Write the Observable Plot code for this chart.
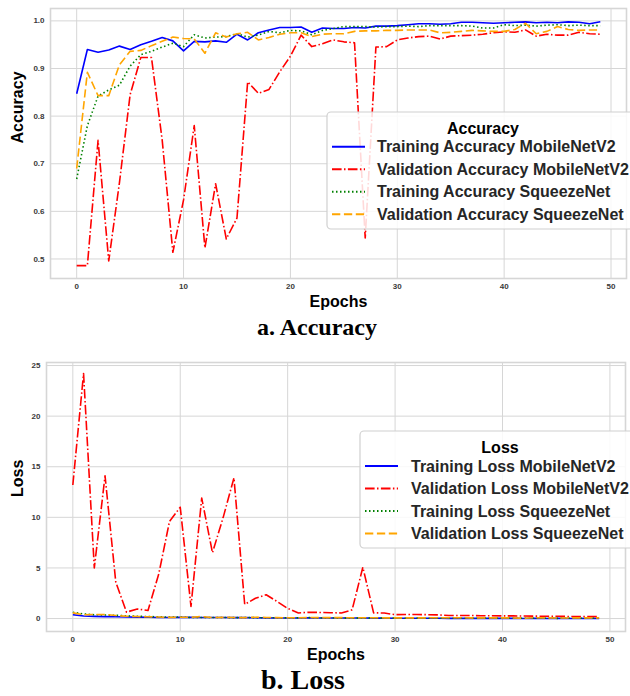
<!DOCTYPE html>
<html><head><meta charset="utf-8">
<script src="https://cdn.jsdelivr.net/npm/d3@7"></script>
<script src="https://cdn.jsdelivr.net/npm/@observablehq/plot@0.6"></script>
<style>
body{margin:0;background:#fff;}
#fig{position:relative;width:630px;height:696px;overflow:hidden;background:#fff;font-family:"Liberation Sans",Arial,sans-serif;}
.panel{position:absolute;left:0;}
.overlay{position:absolute;left:0;top:0;}
.caption{position:absolute;left:0;font-family:"Liberation Serif","Times New Roman",serif;font-weight:bold;color:#000;text-align:center;white-space:nowrap;}
</style>
</head><body>
<div id="fig"></div>
<script>
// ---------- data ----------
const epochs = [0,1,2,3,4,5,6,7,8,9,10,11,12,13,14,15,16,17,18,19,20,21,22,23,24,25,26,27,28,29,30,31,32,33,34,35,36,37,38,39,40,41,42,43,44,45,46,47,48,49];
const xTicks = [0,10,20,30,40,50];
const accTicks = [0.5,0.6,0.7,0.8,0.9,1.0];
const lossTicks = [0,5,10,15,20,25];

const trainAccMobile = [0.847,0.940,0.934,0.939,0.947,0.940,0.950,0.957,0.965,0.958,0.937,0.957,0.956,0.958,0.955,0.972,0.960,0.975,0.981,0.986,0.986,0.987,0.976,0.985,0.984,0.984,0.986,0.985,0.989,0.989,0.990,0.992,0.994,0.994,0.993,0.994,0.997,0.997,0.996,0.995,0.996,0.997,0.998,0.996,0.997,0.996,0.998,0.997,0.994,0.998];
const valAccMobile = [0.486,0.486,0.749,0.496,0.660,0.845,0.923,0.923,0.750,0.514,0.624,0.780,0.523,0.658,0.542,0.586,0.872,0.848,0.856,0.893,0.926,0.970,0.946,0.952,0.960,0.956,0.954,0.544,0.945,0.946,0.960,0.964,0.967,0.968,0.962,0.968,0.969,0.970,0.972,0.975,0.977,0.976,0.981,0.968,0.972,0.970,0.970,0.976,0.973,0.972];
const trainAccSqueeze = [0.668,0.780,0.842,0.855,0.865,0.905,0.929,0.936,0.945,0.953,0.946,0.971,0.964,0.966,0.967,0.973,0.966,0.970,0.978,0.975,0.980,0.979,0.971,0.980,0.984,0.988,0.988,0.988,0.987,0.988,0.988,0.989,0.988,0.990,0.990,0.990,0.990,0.989,0.985,0.985,0.992,0.990,0.991,0.989,0.991,0.992,0.990,0.991,0.990,0.990];
const valAccSqueeze = [0.690,0.892,0.843,0.843,0.908,0.936,0.938,0.948,0.957,0.966,0.963,0.962,0.932,0.975,0.966,0.973,0.976,0.960,0.965,0.972,0.975,0.975,0.967,0.972,0.973,0.973,0.978,0.979,0.979,0.980,0.980,0.981,0.981,0.981,0.975,0.976,0.978,0.980,0.979,0.978,0.978,0.982,0.995,0.973,0.978,0.988,0.982,0.980,0.981,0.981];

const trainLossMobile = [0.38,0.25,0.21,0.19,0.17,0.16,0.14,0.13,0.11,0.11,0.13,0.12,0.11,0.11,0.11,0.09,0.10,0.08,0.07,0.05,0.05,0.05,0.07,0.05,0.05,0.05,0.05,0.05,0.04,0.04,0.03,0.03,0.03,0.03,0.03,0.02,0.02,0.02,0.02,0.02,0.02,0.02,0.01,0.02,0.01,0.02,0.01,0.01,0.02,0.01];
const valLossMobile = [13.2,24.2,5.0,14.1,3.6,0.63,0.95,0.80,4.4,9.6,11.0,1.2,11.9,6.5,10.0,13.9,1.4,2.0,2.35,1.7,1.0,0.55,0.62,0.60,0.58,0.55,0.86,5.07,0.56,0.55,0.38,0.40,0.40,0.38,0.36,0.30,0.30,0.30,0.28,0.28,0.26,0.26,0.25,0.24,0.22,0.22,0.21,0.20,0.20,0.19];
const trainLossSqueeze = [0.62,0.45,0.38,0.35,0.32,0.27,0.22,0.20,0.17,0.15,0.16,0.10,0.11,0.10,0.10,0.09,0.10,0.09,0.07,0.08,0.06,0.07,0.09,0.06,0.05,0.04,0.04,0.04,0.04,0.04,0.04,0.03,0.04,0.03,0.03,0.03,0.03,0.03,0.04,0.04,0.03,0.03,0.03,0.03,0.03,0.02,0.03,0.03,0.03,0.03];
const valLossSqueeze = [0.56,0.38,0.40,0.40,0.30,0.22,0.20,0.17,0.15,0.12,0.13,0.13,0.20,0.09,0.12,0.10,0.09,0.13,0.11,0.09,0.08,0.08,0.10,0.09,0.09,0.09,0.08,0.08,0.08,0.07,0.07,0.07,0.07,0.07,0.08,0.08,0.08,0.07,0.07,0.07,0.07,0.06,0.03,0.08,0.07,0.05,0.06,0.07,0.07,0.07];

const accNames = ["Training Accuracy MobileNetV2","Validation Accuracy MobileNetV2","Training Accuracy SqueezeNet","Validation Accuracy SqueezeNet"];
const lossNames = ["Training Loss MobileNetV2","Validation Loss MobileNetV2","Training Loss SqueezeNet","Validation Loss SqueezeNet"];
const colors = ["blue","red","green","orange"];
const dashes = [null,"9.6,2.4,1.5,2.4","1.5,2.5","8.3,3.6"];

// ---------- drawing ----------
const FONT = '"Liberation Sans", Arial, sans-serif';
const GRID = "#d6d6d6";
const fig = document.getElementById("fig");

function panel({top, height, margins, yDomain, yTicks, yFormat, yLabel, yLabelDx, xLabelDy, seriesValues}) {
  const [mt, mr, mb, ml] = margins;
  const lines = seriesValues.map((vals, i) => Plot.line(epochs, {
    x: epochs, y: vals, stroke: colors[i], strokeWidth: 1.6,
    strokeDasharray: dashes[i] || undefined, strokeLinecap: "butt", strokeLinejoin: "round"
  }));
  const p = Plot.plot({
    width: 630, height,
    marginTop: mt, marginRight: mr, marginBottom: mb, marginLeft: ml,
    style: {fontFamily: FONT, background: "transparent", overflow: "visible"},
    x: {domain: [-2.45, 51.45]},
    y: {domain: yDomain},
    marks: [
      Plot.gridX(xTicks, {stroke: GRID, strokeOpacity: 1, strokeWidth: 1}),
      Plot.gridY(yTicks, {stroke: GRID, strokeOpacity: 1, strokeWidth: 1}),
      Plot.frame({stroke: GRID, strokeWidth: 1.6}),
      Plot.axisX(xTicks, {tickSize: 0, tickPadding: 5, fontSize: 8, fontWeight: "bold", fill: "#3a3a3a", label: null}),
      Plot.axisY(yTicks, {tickSize: 0, tickPadding: 6, fontSize: 8, fontWeight: "bold", fill: "#3a3a3a", label: null, tickFormat: yFormat}),
      ...lines,
      Plot.text([yLabel], {text: d => d, frameAnchor: "left", dx: yLabelDx, rotate: -90, fontSize: 16, fontWeight: "bold", fill: "#000"}),
      Plot.text(["Epochs"], {text: d => d, frameAnchor: "bottom", dy: xLabelDy, fontSize: 16, fontWeight: "bold", fill: "#000"})
    ]
  });
  p.classList.add("panel");
  p.style.top = top + "px";
  fig.appendChild(p);
}

panel({top: 0, height: 315, margins: [8, 4, 37, 50], yDomain: [0.459, 1.026], yTicks: accTicks,
  yFormat: d3.format(".1f"), yLabel: "Accuracy", yLabelDx: -33, xLabelDy: 28,
  seriesValues: [trainAccMobile, valAccMobile, trainAccSqueeze, valAccSqueeze]});
panel({top: 355, height: 315, margins: [7, 5, 39, 46], yDomain: [-1.28, 25.3], yTicks: lossTicks,
  yFormat: d3.format("d"), yLabel: "Loss", yLabelDx: -29, xLabelDy: 28,
  seriesValues: [trainLossMobile, valLossMobile, trainLossSqueeze, valLossSqueeze]});

// legends (overlay)
const ov = d3.select(fig).append("svg").attr("class", "overlay").attr("width", 630).attr("height", 696)
  .style("font-family", FONT);
function legend({x, y, w, h, title, titleX, names, sx0, sx1, tx, row0, step}) {
  const g = ov.append("g");
  g.append("rect").attr("x", x).attr("y", y).attr("width", w).attr("height", h).attr("rx", 4)
    .attr("fill", "#fff").attr("fill-opacity", 0.85).attr("stroke", "#d0d0d0").attr("stroke-width", 1.2);
  g.append("text").attr("x", titleX).attr("y", y + 16).attr("dy", "0.35em").attr("text-anchor", "middle")
    .attr("font-size", 16).attr("font-weight", "bold").attr("fill", "#000").text(title);
  names.forEach((n, i) => {
    const yy = row0 + i * step;
    g.append("line").attr("x1", sx0).attr("x2", sx1).attr("y1", yy).attr("y2", yy)
      .attr("stroke", colors[i]).attr("stroke-width", 2).attr("stroke-dasharray", dashes[i]).attr("stroke-linecap", "butt");
    g.append("text").attr("x", tx).attr("y", yy).attr("dy", "0.35em").attr("font-size", 16)
      .attr("font-weight", "bold").attr("fill", "#262626").text(n);
  });
}
legend({x: 327, y: 112, w: 310, h: 117, title: "Accuracy", titleX: 483, names: accNames,
  sx0: 332, sx1: 365, tx: 377, row0: 146.7, step: 22.5});
legend({x: 360, y: 431, w: 280, h: 117, title: "Loss", titleX: 500, names: lossNames,
  sx0: 365, sx1: 398, tx: 411, row0: 466, step: 22.5});

// captions
function caption(text, cx, top, size) {
  const d = document.createElement("div");
  d.className = "caption";
  d.style.width = (2 * cx) + "px";
  d.style.top = top + "px";
  d.style.fontSize = size + "px";
  d.style.lineHeight = size + "px";
  d.textContent = text;
  fig.appendChild(d);
}
caption("a. Accuracy", 317, 315, 24);
caption("b. Loss", 303, 666, 28);
</script>
</body></html>
